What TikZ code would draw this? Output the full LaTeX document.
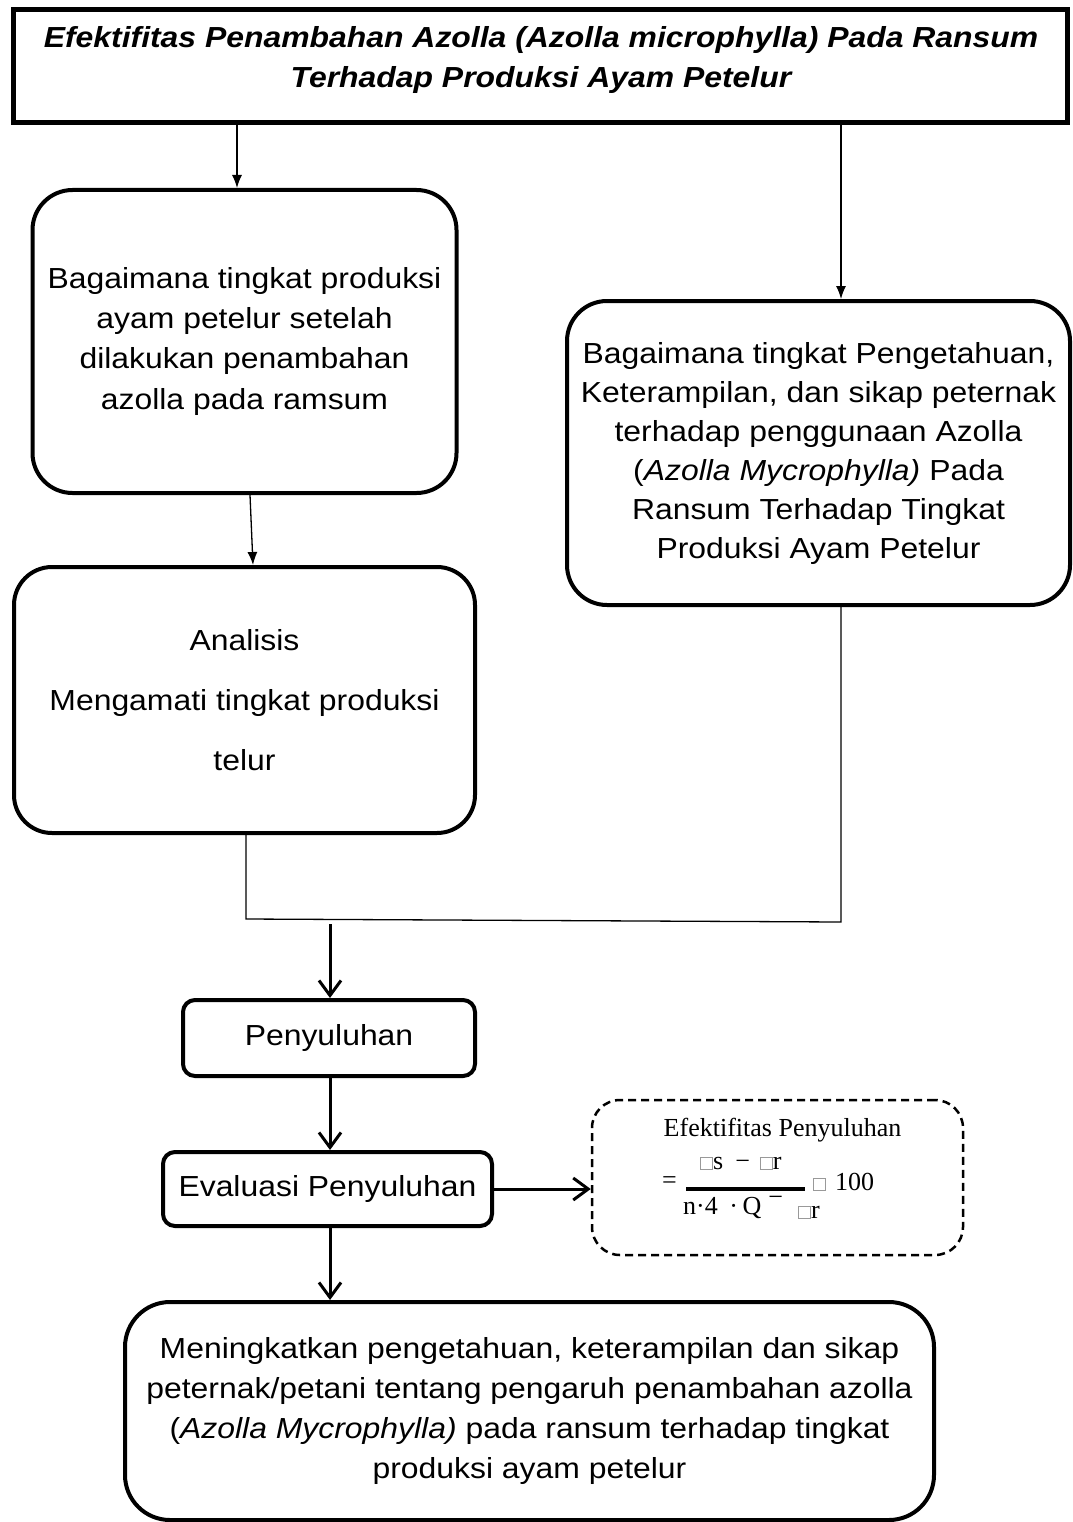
\documentclass[tikz,border=0pt]{standalone}
\usepackage{fontspec}
\setmainfont{Liberation Sans}[FakeStretch=1.1]
\newfontfamily\tnr{Liberation Serif}
\usetikzlibrary{arrows.meta,calc}
\newcommand{\gbox}{{\color{black!40}\setlength{\fboxsep}{0pt}\setlength{\fboxrule}{1pt}\fbox{\rule{0pt}{11pt}\rule{11pt}{0pt}}}}
\begin{document}
\begin{tikzpicture}[x=1pt,y=-1pt,
  rbox/.style={draw, line width=4pt, rounded corners=40pt, align=center, inner sep=0pt,
    font=\fontsize{29}{40}\selectfont},
  sbox/.style={draw, line width=4pt, rounded corners=12pt, align=center, inner sep=0pt,
    font=\fontsize{29}{40}\selectfont},
  ttext/.style={font=\bfseries\itshape\fontsize{29}{40}\selectfont, inner sep=0pt, anchor=base},
  thinarrow/.style={line width=1.3pt, -{Latex[length=13pt,width=10pt]}},
  thickarrow/.style={line width=3pt, -{Straight Barb[length=15pt,width=22pt]}},
  conn/.style={line width=1.3pt},
  ftext/.style={font=\tnr\fontsize{26}{30}\selectfont, inner sep=0pt}
]
\fill[white] (0,0) rectangle (1072,1522);
\useasboundingbox (0,0) rectangle (1072,1522);
\clip (0,0) rectangle (1072,1522);

% title
\node[draw, line width=5pt, minimum width=1054pt, minimum height=113pt, inner sep=0pt] (title) at (540,66.5) {};
\node[ttext] (t1) at (541,48) {Efektifitas Penambahan Azolla (Azolla microphylla) Pada Ransum};
\node[ttext] (t2) at (541,88) {Terhadap Produksi Ayam Petelur};

% question boxes
\node[rbox, minimum width=424pt, minimum height=303pt] (q1) at (244.5,341.5)
  {Bagaimana tingkat produksi\\ayam petelur setelah\\dilakukan penambahan\\azolla pada ramsum};
\node[rbox, minimum width=503pt, minimum height=304pt, font=\fontsize{29}{39}\selectfont] (q2) at (818.5,453)
  {\rule{0pt}{14pt}Bagaimana tingkat Pengetahuan,\\Keterampilan, dan sikap peternak\\terhadap penggunaan Azolla\\(\textit{Azolla Mycrophylla)} Pada\\Ransum Terhadap Tingkat\\Produksi Ayam Petelur};
\node[rbox, rounded corners=38pt, minimum width=461pt, minimum height=266pt,
  font=\fontsize{29}{60}\selectfont] (q3) at (244.5,700)
  {Analisis\\Mengamati tingkat produksi\\telur};

% lower boxes
\node[sbox, minimum width=292pt, minimum height=76pt] (pen) at (329,1038) {Penyuluhan};
\node[sbox, minimum width=329pt, minimum height=74pt] (eva) at (327.5,1189) {Evaluasi Penyuluhan};
\node[draw, dashed, dash pattern=on 8pt off 5pt, line width=2.5pt, rounded corners=28pt,
  minimum width=371pt, minimum height=155pt, inner sep=0pt] (fbox) at (777.5,1177.5) {};
\node[rbox, rounded corners=45pt, minimum width=809pt, minimum height=218pt] (res) at (529.5,1411)
  {Meningkatkan pengetahuan, keterampilan dan sikap\\peternak/petani tentang pengaruh penambahan azolla\\(\textit{Azolla Mycrophylla)} pada ransum terhadap tingkat\\produksi ayam petelur};

% formula contents
\node[ftext, anchor=base] (f1) at (782.5,1136) {Efektifitas Penyuluhan};
\node[ftext, anchor=base west] (f2) at (662,1188) {=};
\node[ftext, anchor=base west] (f3) at (700,1169) {\gbox s\hspace{12pt}−\hspace{10pt}\gbox r};
\draw[line width=4pt] (686,1188.5) -- (805,1188.5);
\node[ftext, anchor=base west] (f4) at (683,1214) {n·4\hspace{11.5pt}·\hspace{4.5pt}Q\hspace{7pt}\raisebox{9pt}{−}};
\node[ftext, anchor=base west] (f5) at (798,1218) {\gbox r};
\node[ftext, anchor=base west] (f6) at (813,1190) {\gbox\hspace{9pt}100};

% connectors
\draw[thinarrow] ([xshift=-7.5pt]q1.north |- title.south) -- ([xshift=-7.5pt]q1.north);
\draw[thinarrow] ([xshift=22.5pt]q2.north |- title.south) -- ([xshift=22.5pt]q2.north);
\draw[thinarrow] ([xshift=5.5pt]q1.south) -- ([xshift=8.5pt]q3.north);

\coordinate (m1) at (246,919);
\coordinate (m2) at (841,922);
\draw[conn] ([xshift=1.5pt]q3.south) -- (m1) -- (m2) -- ([xshift=22.5pt]q2.south);

\coordinate (m3) at (330,924);
\draw[thickarrow] (m3) -- ([xshift=1pt]pen.north);
\draw[thickarrow] ([xshift=1pt]pen.south) -- ([xshift=2.5pt]eva.north);
\draw[thickarrow] (eva.east) -- (eva.east -| fbox.west);
\draw[thickarrow] ([xshift=2.5pt]eva.south) -- ([xshift=-199.5pt]res.north);
\end{tikzpicture}
\end{document}
